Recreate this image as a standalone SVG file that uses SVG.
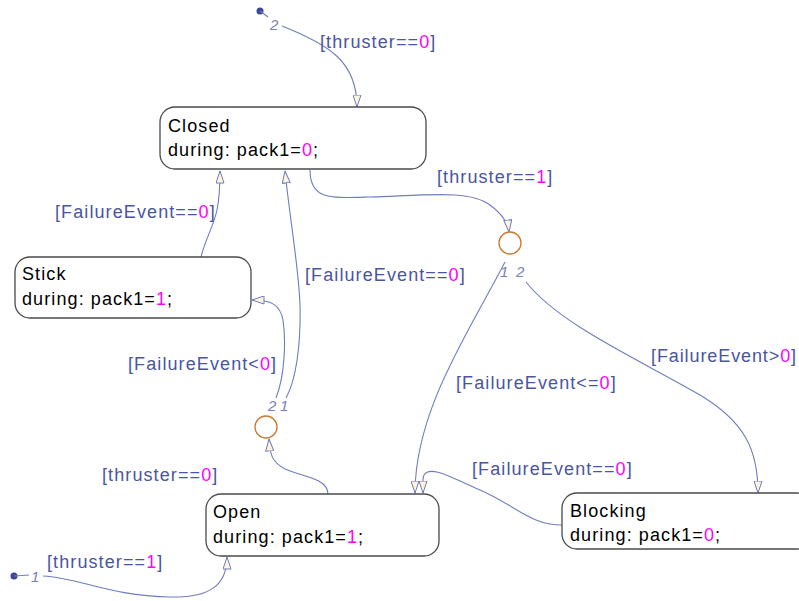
<svg xmlns="http://www.w3.org/2000/svg" width="799" height="601" viewBox="0 0 799 601">
  <defs>
    <style>
      .state rect { fill: #ffffff; stroke: #4a4a4a; stroke-width: 1.3; }
      .state text { font-family: "Liberation Sans", Arial, sans-serif; font-size: 18px; letter-spacing: 1.1px; fill: #000000; }
      .tr { fill: none; stroke: #6f7cc0; stroke-width: 1.1; marker-end: url(#head); }
      .lead { fill: none; stroke: #6f7cc0; stroke-width: 1.1; }
      .lbl { font-family: "Liberation Sans", Arial, sans-serif; font-size: 18px; letter-spacing: 1.1px; fill: #4a55a0; }
      .num { fill: #ff00ff; }
      .ord { font-family: "Liberation Sans", Arial, sans-serif; font-size: 15px; font-style: italic; fill: #7880b8; }
      .junction { fill: #ffffff; stroke: #c87a30; stroke-width: 1.3; }
      .dot { fill: #3c4696; }
    </style>
    <marker id="head" viewBox="0 0 13 9" markerWidth="13" markerHeight="9" refX="12.5" refY="4.5" orient="auto" markerUnits="userSpaceOnUse">
      <path d="M0.5,0.5 L12.5,4.5 L0.5,8.5 Z" fill="#fff3dc" stroke="#6f7cc0" stroke-width="1"/>
    </marker>
  </defs>

  <!-- transitions -->
  <g id="connectors">
    <!-- default transition into Closed -->
    <circle class="dot" cx="260" cy="11" r="3.5"/>
    <path class="lead" d="M260,11 L268,17"/>
    <text class="ord" x="270" y="30">2</text>
    <path class="tr" d="M282,26 C 330,45 357,62 357,107"/>
    <text class="lbl" x="320" y="48">[thruster==<tspan class="num">0</tspan>]</text>

    <!-- Closed to right junction -->
    <path class="tr" d="M310,170 C 310,200 330,198 370,197 C 430,195 470,190 490,205 C 502,214 508,222 509,232"/>
    <text class="lbl" x="437" y="183">[thruster==<tspan class="num">1</tspan>]</text>

    <!-- right junction to Open -->
    <text class="ord" x="500" y="277">1</text>
    <path class="tr" d="M505,262 C 470,330 415,410 415,493"/>
    <text class="lbl" x="456" y="389">[FailureEvent&lt;=<tspan class="num">0</tspan>]</text>

    <!-- right junction to Blocking -->
    <text class="ord" x="516" y="277">2</text>
    <path class="tr" d="M526,282 C 560,325 640,360 700,395 C 745,422 758,450 758,493"/>
    <text class="lbl" x="651" y="362" style="letter-spacing:0.9px">[FailureEvent&gt;<tspan class="num">0</tspan>]</text>

    <!-- Blocking to Open -->
    <path class="tr" d="M562,525 C 530,525 515,505 480,490 C 450,477 430,465 424,475 C 422,480 423,486 423,493"/>
    <text class="lbl" x="472" y="475">[FailureEvent==<tspan class="num">0</tspan>]</text>

    <!-- Open to left junction -->
    <path class="tr" d="M328,494 C 328,478 300,476 285,469 C 272,462 270,455 269,439"/>
    <text class="lbl" x="102" y="481">[thruster==<tspan class="num">0</tspan>]</text>

    <!-- left junction to Stick -->
    <text class="ord" x="268" y="411">2</text>
    <path class="tr" d="M276,398 C 285,375 286,340 283,320 C 280,305 272,300 252,300"/>
    <text class="lbl" x="128" y="370">[FailureEvent&lt;<tspan class="num">0</tspan>]</text>

    <!-- left junction to Closed -->
    <text class="ord" x="280" y="411">1</text>
    <path class="tr" d="M286,398 C 296,380 301,345 300,305 C 299,270 290,220 285,171"/>
    <text class="lbl" x="305" y="281">[FailureEvent==<tspan class="num">0</tspan>]</text>

    <!-- Stick to Closed -->
    <path class="tr" d="M201,257 C 205,240 214,225 217,210 C 220,195 220,185 220,171"/>
    <text class="lbl" x="55" y="218">[FailureEvent==<tspan class="num">0</tspan>]</text>

    <!-- default transition into Open -->
    <circle class="dot" cx="14" cy="576" r="3.5"/>
    <path class="lead" d="M14,576 L29,575"/>
    <text class="ord" x="31" y="582">1</text>
    <path class="tr" d="M43,576 C 80,578 110,596 170,597 C 210,598 227,585 227,557"/>
    <text class="lbl" x="47" y="568">[thruster==<tspan class="num">1</tspan>]</text>
  </g>

  <!-- junctions -->
  <g id="junction_right">
    <circle class="junction" cx="510" cy="243" r="11"/>
  </g>
  <g id="junction_left">
    <circle class="junction" cx="266" cy="427" r="11"/>
  </g>

  <!-- states -->
  <g id="Closed" class="state">
    <rect x="160" y="107" width="266" height="62" rx="15"/>
    <text x="168" y="132">Closed</text>
    <text x="168" y="156">during: pack1=<tspan class="num">0</tspan>;</text>
  </g>
  <g id="Stick" class="state">
    <rect x="15" y="257" width="236" height="61" rx="15"/>
    <text x="22" y="280">Stick</text>
    <text x="22" y="305">during: pack1=<tspan class="num">1</tspan>;</text>
  </g>
  <g id="Open" class="state">
    <rect x="206" y="494" width="233" height="62" rx="15"/>
    <text x="213" y="518">Open</text>
    <text x="213" y="543">during: pack1=<tspan class="num">1</tspan>;</text>
  </g>
  <g id="Blocking" class="state">
    <rect x="562" y="493" width="250" height="56" rx="15"/>
    <text x="570" y="517">Blocking</text>
    <text x="570" y="541">during: pack1=<tspan class="num">0</tspan>;</text>
  </g>
</svg>
